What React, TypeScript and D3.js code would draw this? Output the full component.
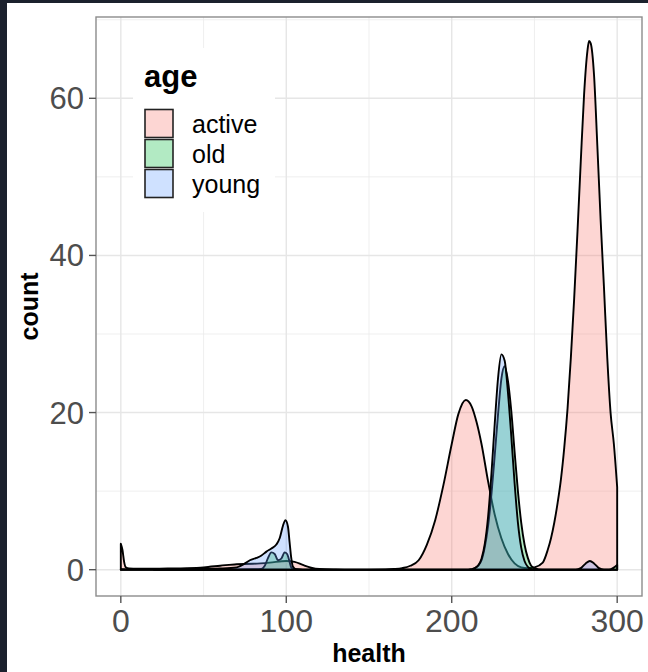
import React, { useEffect, useRef } from "react";
import * as d3 from "d3";

// groups of the fill legend, in drawing order
const groups = ["active", "old", "young"];
const groupColors = ["#F8766D", "#00BA38", "#619CFF"];

// axis breaks
const xTicks = [0, 100, 200, 300];
const yTicks = [0, 20, 40, 60];
const xMinor = [50, 150, 250];
const yMinor = [10, 30, 50, 70];

// density counts: [health, count]
const activeCurve: [number, number][] = [
  [0, 3.3], [1, 2.5], [2, 1.0], [3, 0.3], [5, 0.15], [10, 0.12], [20, 0.12], [30, 0.15],
  [40, 0.2], [50, 0.3], [60, 0.5], [70, 0.7], [80, 0.75], [90, 0.9], [100, 1.1], [105, 1.0],
  [110, 0.6], [115, 0.25], [120, 0.08], [130, 0.02], [140, 0], [150, 0], [160, 0.02], [165, 0.08],
  [170, 0.2], [175, 0.5], [180, 1.2], [185, 3.2], [190, 6.3], [195, 10.8], [200, 16.0], [204, 19.8],
  [208.5, 21.6], [212, 20.8], [215, 18.8], [218, 16.0], [222, 11.2], [226, 7.0], [230, 4.0], [234, 2.0],
  [238, 0.8], [242, 0.3], [246, 0.2], [250, 0.3], [255, 0.9], [258, 2.5], [260, 4], [262, 6],
  [264, 8.5], [266, 11.5], [268, 15.5], [270, 20.5], [272, 27], [274, 34.5], [276, 43], [278, 52],
  [280, 60.5], [282, 66], [283, 67.3], [284, 67], [286, 63], [288, 54], [290, 44.5], [292, 36],
  [294, 27], [296, 20], [298, 16], [300, 10.5],
];

const oldCurve: [number, number][] = [
  [0, 0.1], [2, 0.05], [10, 0.02], [40, 0.02], [70, 0.03], [80, 0.05], [85, 0.1], [87, 0.5],
  [89, 1.5], [91, 2.2], [93, 2.0], [95, 1.2], [97, 1.4], [99, 2.2], [100.5, 2.0], [102, 1.0],
  [103, 0.3], [105, 0.05], [110, 0], [200, 0], [212, 0], [214, 0.2], [216, 0.5], [218, 1.2],
  [220, 2.9], [222, 5.6], [224, 9.6], [226, 14.6], [228, 19.8], [230, 24.3], [232, 25.9], [234, 24.0],
  [236, 20.2], [238, 15.0], [240, 10.0], [242, 6.0], [244, 3.2], [246, 1.5], [248, 0.5], [250, 0.2],
  [255, 0], [295, 0], [300, 0.6],
];

const youngCurve: [number, number][] = [
  [20, 0.02], [40, 0.05], [50, 0.1], [60, 0.15], [70, 0.3], [75, 0.8], [78, 1.2], [82, 1.5],
  [85, 1.8], [88, 2.3], [91, 2.7], [94, 3.2], [96, 4.0], [98, 5.6], [99.5, 6.3], [101, 5.5],
  [102, 3.5], [103, 1.5], [104, 0.4], [106, 0.05], [110, 0], [210, 0], [212, 0.08], [214, 0.2],
  [216, 0.55], [218, 1.4], [220, 3.3], [222, 6.8], [224, 12.2], [226, 18.6], [228, 24.4], [230, 27.4],
  [232, 26.6], [234, 22.5], [236, 17], [238, 11], [240, 6.0], [242, 2.8], [244, 1.1], [246, 0.35],
  [248, 0.08], [250, 0], [275, 0], [278, 0.2], [281, 0.8], [283.5, 1.1], [286, 0.8], [289, 0.2],
  [292, 0], [296, 0],
];

const curves = [activeCurve, oldCurve, youngCurve];

const App = () => {
  const ref = useRef<SVGSVGElement>(null);

  useEffect(() => {
    const svg = d3.select(ref.current);
    svg.selectAll("*").remove();

    const width = 648;
    const height = 672;
    const left = 96, right = 642, top = 17, bottom = 596;
    const font = "'Liberation Sans', Arial, sans-serif";

    const x = d3.scaleLinear().domain([-15, 315]).range([left, right]);
    const y = d3.scaleLinear().domain([-3.35, 70.35]).range([bottom, top]);

    // page background + dark frame of the screenshot
    svg.append("rect").attr("width", width).attr("height", height).attr("fill", "#1b212d");
    svg.append("rect").attr("x", 7).attr("y", 3).attr("width", width - 7).attr("height", height - 3).attr("fill", "#ffffff");

    // grid
    const grid = svg.append("g");
    grid.selectAll(".vmin").data(xMinor).enter().append("line")
      .attr("x1", d => x(d)).attr("x2", d => x(d)).attr("y1", top).attr("y2", bottom)
      .attr("stroke", "#ebebeb").attr("stroke-width", 0.8);
    grid.selectAll(".hmin").data(yMinor).enter().append("line")
      .attr("x1", left).attr("x2", right).attr("y1", d => y(d)).attr("y2", d => y(d))
      .attr("stroke", "#ebebeb").attr("stroke-width", 0.8);
    grid.selectAll(".vmaj").data(xTicks).enter().append("line")
      .attr("x1", d => x(d)).attr("x2", d => x(d)).attr("y1", top).attr("y2", bottom)
      .attr("stroke", "#e6e6e6").attr("stroke-width", 1.4);
    grid.selectAll(".hmaj").data(yTicks).enter().append("line")
      .attr("x1", left).attr("x2", right).attr("y1", d => y(d)).attr("y2", d => y(d))
      .attr("stroke", "#e6e6e6").attr("stroke-width", 1.4);

    // density areas
    const area = d3.area<[number, number]>()
      .x(d => x(d[0]))
      .y0(y(0))
      .y1(d => y(d[1]))
      .curve(d3.curveMonotoneX);

    curves.forEach((c, i) => {
      svg.append("path")
        .attr("d", area(c) + "Z")
        .attr("fill", groupColors[i])
        .attr("fill-opacity", 0.3)
        .attr("stroke", "black")
        .attr("stroke-width", 1.9)
        .attr("stroke-linejoin", "round");
    });

    // panel border
    svg.append("rect")
      .attr("x", left).attr("y", top).attr("width", right - left).attr("height", bottom - top)
      .attr("fill", "none").attr("stroke", "#8c8c8c").attr("stroke-width", 1.4);

    // ticks + labels
    svg.selectAll(".xt").data(xTicks).enter().append("line")
      .attr("x1", d => x(d)).attr("x2", d => x(d)).attr("y1", bottom).attr("y2", bottom + 7)
      .attr("stroke", "#555").attr("stroke-width", 1.4);
    svg.selectAll(".xl").data(xTicks).enter().append("text")
      .attr("x", d => x(d)).attr("y", 632)
      .attr("text-anchor", "middle").attr("font-family", font).attr("font-size", 32)
      .attr("fill", "#4d4d4d").text(d => d);
    svg.selectAll(".yt").data(yTicks).enter().append("line")
      .attr("x1", left - 7).attr("x2", left).attr("y1", d => y(d)).attr("y2", d => y(d))
      .attr("stroke", "#555").attr("stroke-width", 1.4);
    svg.selectAll(".yl").data(yTicks).enter().append("text")
      .attr("x", 84).attr("y", d => y(d) + 11)
      .attr("text-anchor", "end").attr("font-family", font).attr("font-size", 31)
      .attr("fill", "#4d4d4d").text(d => d);

    // axis titles
    svg.append("text")
      .attr("x", (left + right) / 2).attr("y", 662)
      .attr("text-anchor", "middle").attr("font-family", font).attr("font-size", 25)
      .attr("font-weight", "bold").attr("fill", "black").text("health");
    svg.append("text")
      .attr("transform", `translate(38,${(top + bottom) / 2}) rotate(-90)`)
      .attr("text-anchor", "middle").attr("font-family", font).attr("font-size", 25)
      .attr("font-weight", "bold").attr("fill", "black").text("count");

    // legend
    const legend = svg.append("g");
    legend.append("rect").attr("x", 133).attr("y", 48).attr("width", 142).attr("height", 164).attr("fill", "white");
    legend.append("text")
      .attr("x", 144).attr("y", 87).attr("font-family", font).attr("font-size", 31)
      .attr("font-weight", "bold").attr("fill", "black").text("age");
    groups.forEach((g, i) => {
      const ky = 108.5 + i * 30;
      legend.append("rect").attr("x", 144).attr("y", ky).attr("width", 30).attr("height", 30).attr("fill", "white");
      legend.append("rect")
        .attr("x", 145).attr("y", ky + 1).attr("width", 28).attr("height", 28)
        .attr("fill", groupColors[i]).attr("fill-opacity", 0.3)
        .attr("stroke", "#222").attr("stroke-width", 1.6);
      legend.append("text")
        .attr("x", 192).attr("y", ky + 24.5).attr("font-family", font).attr("font-size", 25)
        .attr("fill", "black").text(g);
    });
  }, []);

  return (
    <svg
      ref={ref}
      width={648}
      height={672}
      style={{ position: "absolute", left: 0, top: 0, display: "block" }}
    ></svg>
  );
};

export default App;
